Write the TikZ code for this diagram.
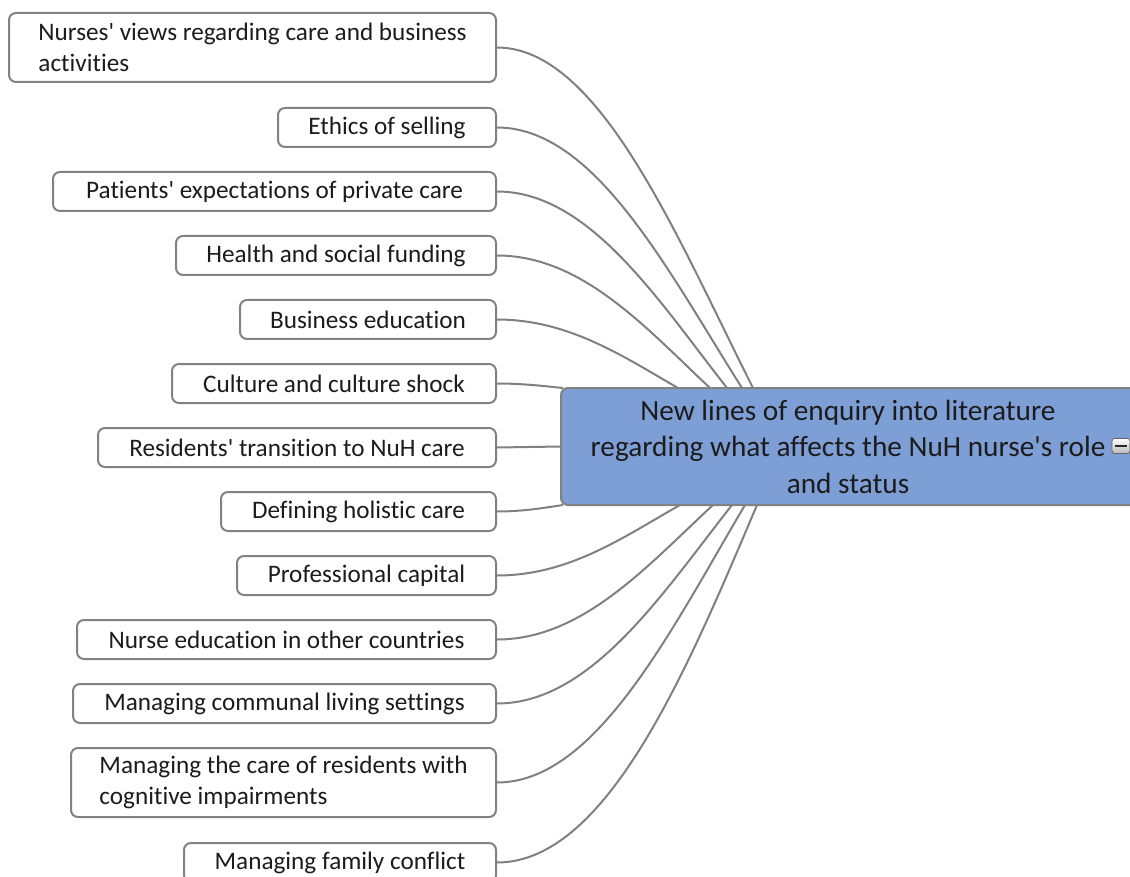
\documentclass[tikz,border=0pt]{standalone}
\usepackage{fontspec}
\setmainfont{Carlito}[Ligatures={TeXOff,NoCommon}]
\begin{document}
\begin{tikzpicture}[x=1pt,y=-1pt,
  topic/.style={draw=boxgray,line width=2pt,rounded corners=7pt,fill=white,
    font=\fontsize{25.2}{31}\selectfont,text=txt,inner xsep=27pt,inner ysep=0pt,
    anchor=east,minimum height=39pt},
  single/.style={topic,align=center,minimum width=#1},
  double/.style={topic,align=left,minimum width=#1,minimum height=69pt},
  centre/.style={draw=boxgray,line width=2pt,rounded corners=7pt,fill=cfill},
  link/.style={draw=linkgray,line width=2pt}]
\definecolor{boxgray}{RGB}{130,130,130}
\definecolor{linkgray}{RGB}{128,128,128}
\definecolor{cfill}{RGB}{126,158,214}
\definecolor{txt}{RGB}{28,28,28}
\useasboundingbox (0,0) rectangle (1130,877);
\clip (0,0) rectangle (1130,877);

% central topic (runs past the right edge)
\path[centre] (561,388) rectangle (1145,505);
\node[font=\fontsize{29.3}{36.5}\selectfont,text=txt,align=center] (c) at (848,446.5)
  {New lines of enquiry into literature\\regarding what affects the NuH nurse's role\\and status};
\coordinate (cw) at (561,446.5);
% collapse button
\node[draw=gray!80!black,line width=0.8pt,rounded corners=2.5pt,
  top color=white,bottom color=gray!55,minimum width=18pt,minimum height=15pt,inner sep=0pt]
  (btn) at (1121,446) {};
\draw[line width=1.6pt,gray!30!black] (btn.center) ++(-6,0) -- ++(12,0);

% subtopics, right edges aligned at x = 497
\node[double=487pt] (t1)  at (497,47.5) {Nurses' views regarding care and business\\activities};
\node[single=218pt] (t2)  at (497,127.5) {Ethics of selling};
\node[single=443pt] (t3)  at (497,191.5) {Patients' expectations of private care};
\node[single=320pt] (t4)  at (497,255.5) {Health and social funding};
\node[single=256pt] (t5)  at (497,319.5) {Business education};
\node[single=324pt] (t6)  at (497,383.5) {Culture and culture shock};
\node[single=398pt] (t7)  at (497,447.5) {Residents' transition to NuH care};
\node[single=275pt] (t8)  at (497,511.5) {Defining holistic care};
\node[single=259pt] (t9)  at (497,575.5) {Professional capital};
\node[single=419pt] (t10) at (497,639.5) {Nurse education in other countries};
\node[single=423pt] (t11) at (497,703.5) {Managing communal living settings};
\node[double=425pt] (t12) at (497,782.5) {Managing the care of residents with\\cognitive impairments};
\node[single=312pt] (t13) at (497,862.5) {Managing family conflict};

% connection points on the central topic
\coordinate (a1) at (753,388);
\coordinate (a2) at (742,388);
\coordinate (a3) at (727,388);
\coordinate (a4) at (710,388);
\coordinate (a5) at (678,388);
\coordinate (a6) at (563,388);
\coordinate (a8) at (563,505);
\coordinate (a9) at (680,505);
\coordinate (a10) at (713,505);
\coordinate (a11) at (732,505);
\coordinate (a12) at (745,505);
\coordinate (a13) at (757,505);

% curved branches above
\draw[link] (t1.east) .. controls +(102,0) and +(-77,-153) .. (a1);
\draw[link] (t2.east) .. controls +(98,0) and +(-74,-117) .. (a2);
\draw[link] (t3.east) .. controls +(92,0) and +(-69,-88) .. (a3);
\draw[link] (t4.east) .. controls +(85,0) and +(-64,-60) .. (a4);
\draw[link] (t5.east) .. controls +(72,0) and +(-54,-31) .. (a5);
\draw[link] (t6.east) .. controls +(26,0) and +(-20,-2) .. (a6);
% straight branch
\draw[link] (t7.east) -- (cw);
% curved branches below
\draw[link] (t8.east) .. controls +(26,0) and +(-20,3) .. (a8);
\draw[link] (t9.east) .. controls +(73,0) and +(-55,31) .. (a9);
\draw[link] (t10.east) .. controls +(86,0) and +(-65,60) .. (a10);
\draw[link] (t11.east) .. controls +(94,0) and +(-70,89) .. (a11);
\draw[link] (t12.east) .. controls +(99,0) and +(-74,125) .. (a12);
\draw[link] (t13.east) .. controls +(110,0) and +(-70,165) .. (a13);
\end{tikzpicture}
\end{document}
